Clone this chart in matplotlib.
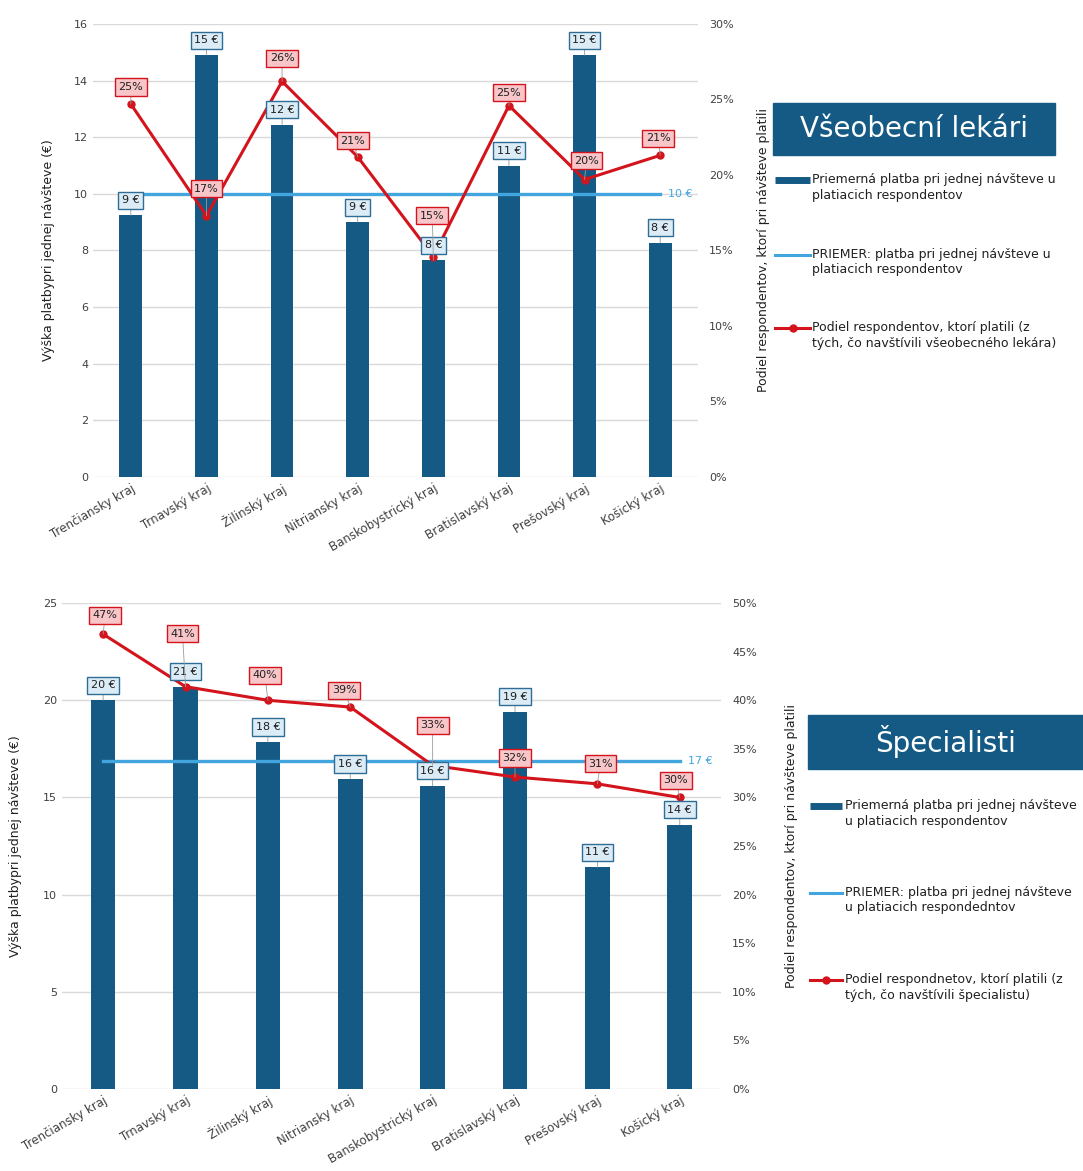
import matplotlib.pyplot as plt
import matplotlib.ticker as mticker
from matplotlib.lines import Line2D
from matplotlib.patches import Rectangle

plt.rcParams['font.family'] = ['Liberation Sans Narrow', 'DejaVu Sans']

regions = ['Trenčiansky kraj', 'Trnavský kraj', 'Žilinský kraj', 'Nitriansky kraj',
           'Banskobystrický kraj', 'Bratislavský kraj', 'Prešovský kraj', 'Košický kraj']

# general practitioners
gp_payment = [9.25, 14.9, 12.45, 9.0, 7.65, 11.0, 14.9, 8.27]
gp_avg = 10.0
gp_share = [24.7, 17.3, 26.2, 21.2, 14.6, 24.6, 19.7, 21.3]

# specialists
sp_payment = [20.0, 20.7, 17.85, 15.95, 15.6, 19.4, 11.4, 13.6]
sp_avg = 16.85
sp_share = [46.8, 41.4, 40.0, 39.3, 33.3, 32.1, 31.4, 30.0]

BAR = '#145a84'
AVG = '#42a5de'
RED = '#d3141c'
GRID = '#d9d9d9'
TXT = '#404040'

# label offsets (pixels) for the share labels
gp_off = [(0, 17), (0, 27), (0, 23), (-5, 16), (-1, 41), (0, 13), (2, 19), (-2, 17)]
sp_off = [(2, 19), (-3, 53), (-3, 25), (-6, 17), (0, 40), (0, 19), (3, 20), (-4, 17)]


def label(ax, xy, text, off, fc, ec, xycoords):
    ax.annotate(text, xy=xy, xycoords=xycoords, xytext=off, textcoords='offset pixels',
                ha='center', va='center', fontsize=8, color='#202020', zorder=10,
                bbox=dict(boxstyle='square,pad=0.32', fc=fc, ec=ec, lw=1),
                arrowprops=dict(arrowstyle='-', color='#9a9a9a', lw=0.6,
                                shrinkA=0, shrinkB=0))


def panel(rect, payment, avg, share, offs, ymax, ystep, pmax, rpad, lpad):
    ax = fig.add_axes(rect)
    x = list(range(len(regions)))
    ax.bar(x, payment, width=0.3, color=BAR, zorder=2)
    ax.plot([x[0], x[-1]], [avg, avg], color=AVG, lw=2.4, zorder=3)
    ax.annotate(f'{avg:.0f} €', xy=(x[-1], avg), xytext=(8, 0), textcoords='offset pixels',
                color=AVG, fontsize=8, va='center', ha='left')
    ax.set_xlim(-0.5, len(regions) - 0.5)
    ax.set_ylim(0, ymax)
    ax.set_yticks(range(0, ymax + 1, ystep))
    ax.yaxis.grid(True, color=GRID, lw=1)
    ax.set_axisbelow(True)
    for s in ax.spines.values():
        s.set_visible(False)
    ax.tick_params(length=0, labelsize=8, colors=TXT)
    ax.set_xticks(x)
    ax.set_xticklabels(regions, rotation=30, ha='right', rotation_mode='anchor', fontsize=8.5)
    ax.set_ylabel('Výška platbypri jednej návšteve (€)', fontsize=9, color='#202020')
    ax.yaxis.set_label_coords(lpad, 0.5)

    ax2 = ax.twinx()
    ax2.plot(x, share, color=RED, lw=2.2, marker='o', ms=5, zorder=4)
    ax2.set_ylim(0, pmax)
    ax2.set_yticks(range(0, pmax + 1, 5))
    ax2.yaxis.set_major_formatter(mticker.PercentFormatter(100, decimals=0))
    for s in ax2.spines.values():
        s.set_visible(False)
    ax2.tick_params(length=0, labelsize=8, colors=TXT, pad=8)
    ax2.set_ylabel('Podiel respondentov, ktorí pri návšteve platili', fontsize=9, color='#202020')
    ax2.yaxis.set_label_coords(rpad, 0.5)

    for i, v in enumerate(payment):
        label(ax2, (i, v), f'{v:.0f} €', (0, 15), '#dcecf7', '#2e6e96', ax.transData)
    for i, v in enumerate(share):
        label(ax2, (i, v), f'{v:.0f}%', offs[i], '#f8c6c9', RED, 'data')
    return ax


def legend_block(title, box, entries, hx, tx, rows):
    W, H = fig.bbox.width, fig.bbox.height
    x0, y0, x1, y1 = box
    fig.add_artist(Rectangle((x0 / W, 1 - y1 / H), (x1 - x0) / W, (y1 - y0) / H,
                             transform=fig.transFigure, color=BAR))
    fig.text((x0 + x1) / 2 / W, 1 - (y0 + y1) / 2 / H, title, color='white',
             fontsize=20, ha='center', va='center')
    for (kind, text), y in zip(entries, rows):
        yy = 1 - y / H
        xs = [hx[0] / W, hx[1] / W]
        if kind == 'bar':
            fig.add_artist(Line2D(xs, [yy, yy], color=BAR, lw=5, solid_capstyle='butt'))
        elif kind == 'avg':
            fig.add_artist(Line2D(xs, [yy, yy], color=AVG, lw=2.2))
        else:
            fig.add_artist(Line2D(xs, [yy, yy], color=RED, lw=2.2))
            fig.add_artist(Line2D([sum(xs) / 2], [yy], color=RED, marker='o', ms=5))
        fig.text(tx / W, yy + 7 / H, text, fontsize=9, color='#202020',
                 ha='left', va='top', linespacing=1.25)


fig = plt.figure(figsize=(10.83, 11.71), dpi=100)

panel([0.0859, 0.5927, 0.5586, 0.3868], gp_payment, gp_avg, gp_share, gp_off,
      16, 2, 30, 1 + 59 / 605, -38 / 605)
panel([0.0572, 0.0700, 0.6085, 0.4150], sp_payment, sp_avg, sp_share, sp_off,
      25, 5, 50, 1 + 64 / 659, -40 / 659)

legend_block('Všeobecní lekári', (773, 103, 1055, 155),
             [('bar', 'Priemerná platba pri jednej návšteve u\nplatiacich respondentov'),
              ('avg', 'PRIEMER: platba pri jednej návšteve u\nplatiacich respondentov'),
              ('red', 'Podiel respondentov, ktorí platili (z\ntých, čo navštívili všeobecného lekára)')],
             (775, 810), 812, [180, 255, 328])
legend_block('Špecialisti', (808, 715, 1083, 769),
             [('bar', 'Priemerná platba pri jednej návšteve\nu platiacich respondentov'),
              ('avg', 'PRIEMER: platba pri jednej návšteve\nu platiacich respondedntov'),
              ('red', 'Podiel respondnetov, ktorí platili (z\ntých, čo navštívili špecialistu)')],
             (810, 842), 845, [806, 893, 980])

fig.savefig('out.png', dpi=100)
